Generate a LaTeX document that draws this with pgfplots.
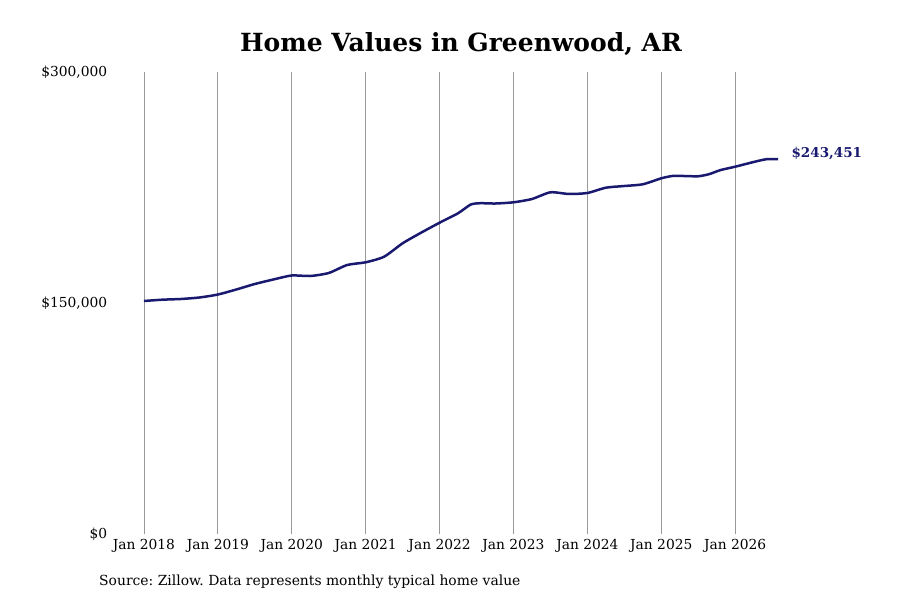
\documentclass[border=0pt]{standalone}
\usepackage{pgfplots}
\pgfplotsset{compat=1.18}
\usepackage{fontspec}
\setmainfont{DejaVu Serif}
\frenchspacing
\definecolor{navy}{HTML}{191970}
\definecolor{gridgray}{HTML}{999999}
\begin{document}
\begin{tikzpicture}[x=1pt,y=1pt]
\path[use as bounding box] (-110.7,-66) rectangle (789.3,534);
\begin{axis}[
  at={(0,0)}, anchor=south west,
  scale only axis, width=670.3pt, height=462pt,
  xmin=2017.55, xmax=2026.62, ymin=0, ymax=300000,
  axis line style={draw=none},
  major tick length=0pt,
  scaled y ticks=false,
  xtick={2018,2019,2020,2021,2022,2023,2024,2025,2026},
  xticklabels={Jan 2018,Jan 2019,Jan 2020,Jan 2021,Jan 2022,Jan 2023,Jan 2024,Jan 2025,Jan 2026},
  ytick={0,150000,300000},
  yticklabels={{\$0},{\$150,000},{\$300,000}},
  xmajorgrids, ymajorgrids=false,
  major grid style={gridgray, line width=0.8pt},
  tick label style={font=\fontsize{13.8}{16}\selectfont},
  xticklabel style={yshift=-2pt},
  clip=false,
]
\addplot[navy, line width=2.5pt, smooth, tension=0.4] coordinates {
(2018.0,151300) (2018.25,152150) (2018.5,152600) (2018.75,153570)
(2019.0,155500) (2019.25,158770) (2019.5,162340) (2019.75,165260)
(2020.0,167860) (2020.25,167530) (2020.5,169480) (2020.75,174680)
(2021.0,176430) (2021.25,180070) (2021.5,188770) (2021.75,195650)
(2022.0,202140) (2022.25,208250) (2022.42,213900) (2022.55,214800)
(2022.75,214600) (2023.0,215390) (2023.25,217530) (2023.5,221880)
(2023.75,220780) (2024.0,221430) (2024.25,224870) (2024.5,225970)
(2024.75,227080) (2025.0,230970) (2025.15,232470) (2025.3,232470)
(2025.5,232300) (2025.65,233700) (2025.8,236300) (2026.0,238510)
(2026.25,241560) (2026.42,243350) (2026.58,243451)
};
\node[anchor=west, text=navy, yshift=6pt, font=\fontsize{13.5}{15}\selectfont\bfseries] at (axis cs:2026.58,243451) {\hspace{10pt}\$243,451};
\end{axis}
\node[font=\fontsize{25}{30}\selectfont\bfseries] at (350.3,490) {Home Values in Greenwood, AR};
\node[anchor=west, font=\fontsize{13.9}{16}\selectfont, inner sep=0pt] at (-11.7,-48) {Source: Zillow. Data represents monthly typical home value};
\end{tikzpicture}
\end{document}
